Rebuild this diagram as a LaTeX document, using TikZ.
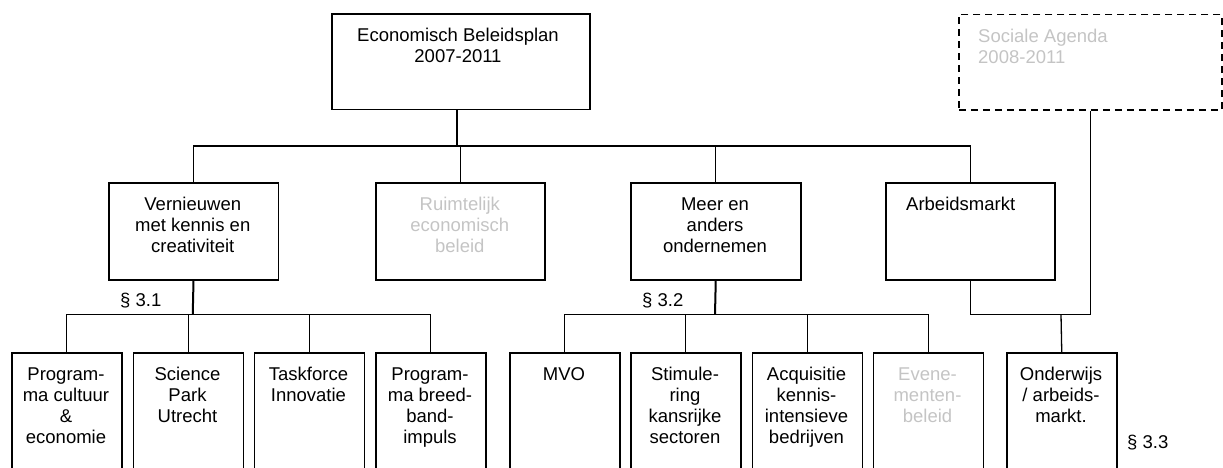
\documentclass[tikz,border=0pt]{standalone}
\usepackage{fontspec}
\setmainfont{Liberation Sans}
\definecolor{ghost}{RGB}{196,196,196}
\newcommand{\fs}{\fontsize{18.5pt}{21pt}\selectfont}
\newcommand{\st}{\rule{0pt}{14pt}}
\tikzset{
  box/.style={draw, line width=1.5pt, rectangle, inner sep=0pt, anchor=north west},
  dbox/.style={box, dash pattern=on 7pt off 5pt},
  lbl/.style={font=\fs, align=center, inner sep=0pt, anchor=north},
  lblw/.style={font=\fs, align=left, inner sep=0pt, anchor=north west},
  sec/.style={font=\fs, inner sep=0pt, anchor=base west},
  conn/.style={line width=1.3pt},
  mainconn/.style={line width=2pt},
}
\begin{document}
\begin{tikzpicture}[x=1pt,y=-1pt]
\useasboundingbox (0,0) rectangle (1223,468);
\clip (0,0) rectangle (1223,468);
% level 1
\node[box, minimum width=258pt, minimum height=95.5pt] (top) at (331,13.5) {};
\node[lbl] (ttop) at (458,27.5) {\st Economisch Beleidsplan\\2007-2011};
\node[dbox, minimum width=263pt, minimum height=95.5pt] (soc) at (958,14) {};
\node[lblw, text=ghost] (tsoc) at (978,28) {\st Sociale Agenda\\2008-2011};
% level 2
\node[box, minimum width=169.5pt, minimum height=97pt] (v1) at (108,182) {};
\node[box, minimum width=169pt, minimum height=97pt] (v2) at (375.3,182) {};
\node[box, minimum width=170pt, minimum height=97pt] (v3) at (630,182) {};
\node[box, minimum width=169pt, minimum height=97pt] (v4) at (885,182) {};
\node[lbl] (tv1) at (192.75,196) {\st Vernieuwen\\met kennis en\\creativiteit};
\node[lbl, text=ghost] (tv2) at (459.8,196) {\st Ruimtelijk\\economisch\\beleid};
\node[lbl] (tv3) at (715,196) {\st Meer en\\anders\\ondernemen};
\node[lblw] (tv4) at (906,196) {\st Arbeidsmarkt};
% level 3
\foreach \n/\x in {a1/11,a2/132.5,a3/253.5,a4/375,b1/509,b2/630,b3/751.5,b4/872.5,c1/1006}
  \node[box, minimum width=110pt, minimum height=150pt] (\n) at (\x,352) {};
\node[lbl] (ta1) at (66,366) {\st Program-\\ma cultuur\\\&\\economie};
\node[lbl] (ta2) at (187.5,366) {\st Science\\Park\\Utrecht};
\node[lbl] (ta3) at (308.5,366) {\st Taskforce\\Innovatie};
\node[lbl] (ta4) at (430,366) {\st Program-\\ma breed-\\band-\\impuls};
\node[lbl] (tb1) at (564,366) {\st MVO};
\node[lbl] (tb2) at (685,366) {\st Stimule-\\ring\\kansrijke\\sectoren};
\node[lbl] (tb3) at (806.5,366) {\st Acquisitie\\kennis-\\intensieve\\bedrijven};
\node[lbl, text=ghost] (tb4) at (927.5,366) {\st Evene-\\menten-\\beleid};
\node[lbl] (tc1) at (1061,366) {\st Onderwijs\\/ arbeids-\\markt.};
% section labels
\node[sec] (s31) at (120,306) {§ 3.1};
\node[sec] (s32) at (642,306) {§ 3.2};
\node[sec] (s33) at (1127,448) {§ 3.3};
% connectors level 1 -> 2
\coordinate (bus1) at (457.3,146);
\draw[mainconn] (top.south -| bus1) -- (bus1);
\draw[conn] (v1.north) -- (v1.north |- bus1) -- (v4.north |- bus1) -- (v4.north);
\draw[conn] (v2.north) -- (v2.north |- bus1);
\draw[conn] (v3.north) -- (v3.north |- bus1);
% 3.1
\coordinate (bus31) at (192.75,314.7);
\draw[mainconn] (v1.south) -- (bus31);
\draw[conn] (a1.north) -- (a1.north |- bus31) -- (a4.north |- bus31) -- (a4.north);
\draw[conn] (a2.north) -- (a2.north |- bus31);
\draw[conn] (a3.north) -- (a3.north |- bus31);
% 3.2
\coordinate (bus32) at (715,314.7);
\draw[mainconn] (v3.south) -- (bus32);
\draw[conn] (b1.north) -- (b1.north |- bus32) -- (b4.north |- bus32) -- (b4.north);
\draw[conn] (b2.north) -- (b2.north |- bus32);
\draw[conn] (b3.north) -- (b3.north |- bus32);
% 3.3
\coordinate (m33) at (1061,314.5);
\draw[conn] (v4.south) |- (m33);
\draw[conn] (soc.south) |- (m33);
\draw[conn] (m33) -- (c1.north);
\end{tikzpicture}
\end{document}
